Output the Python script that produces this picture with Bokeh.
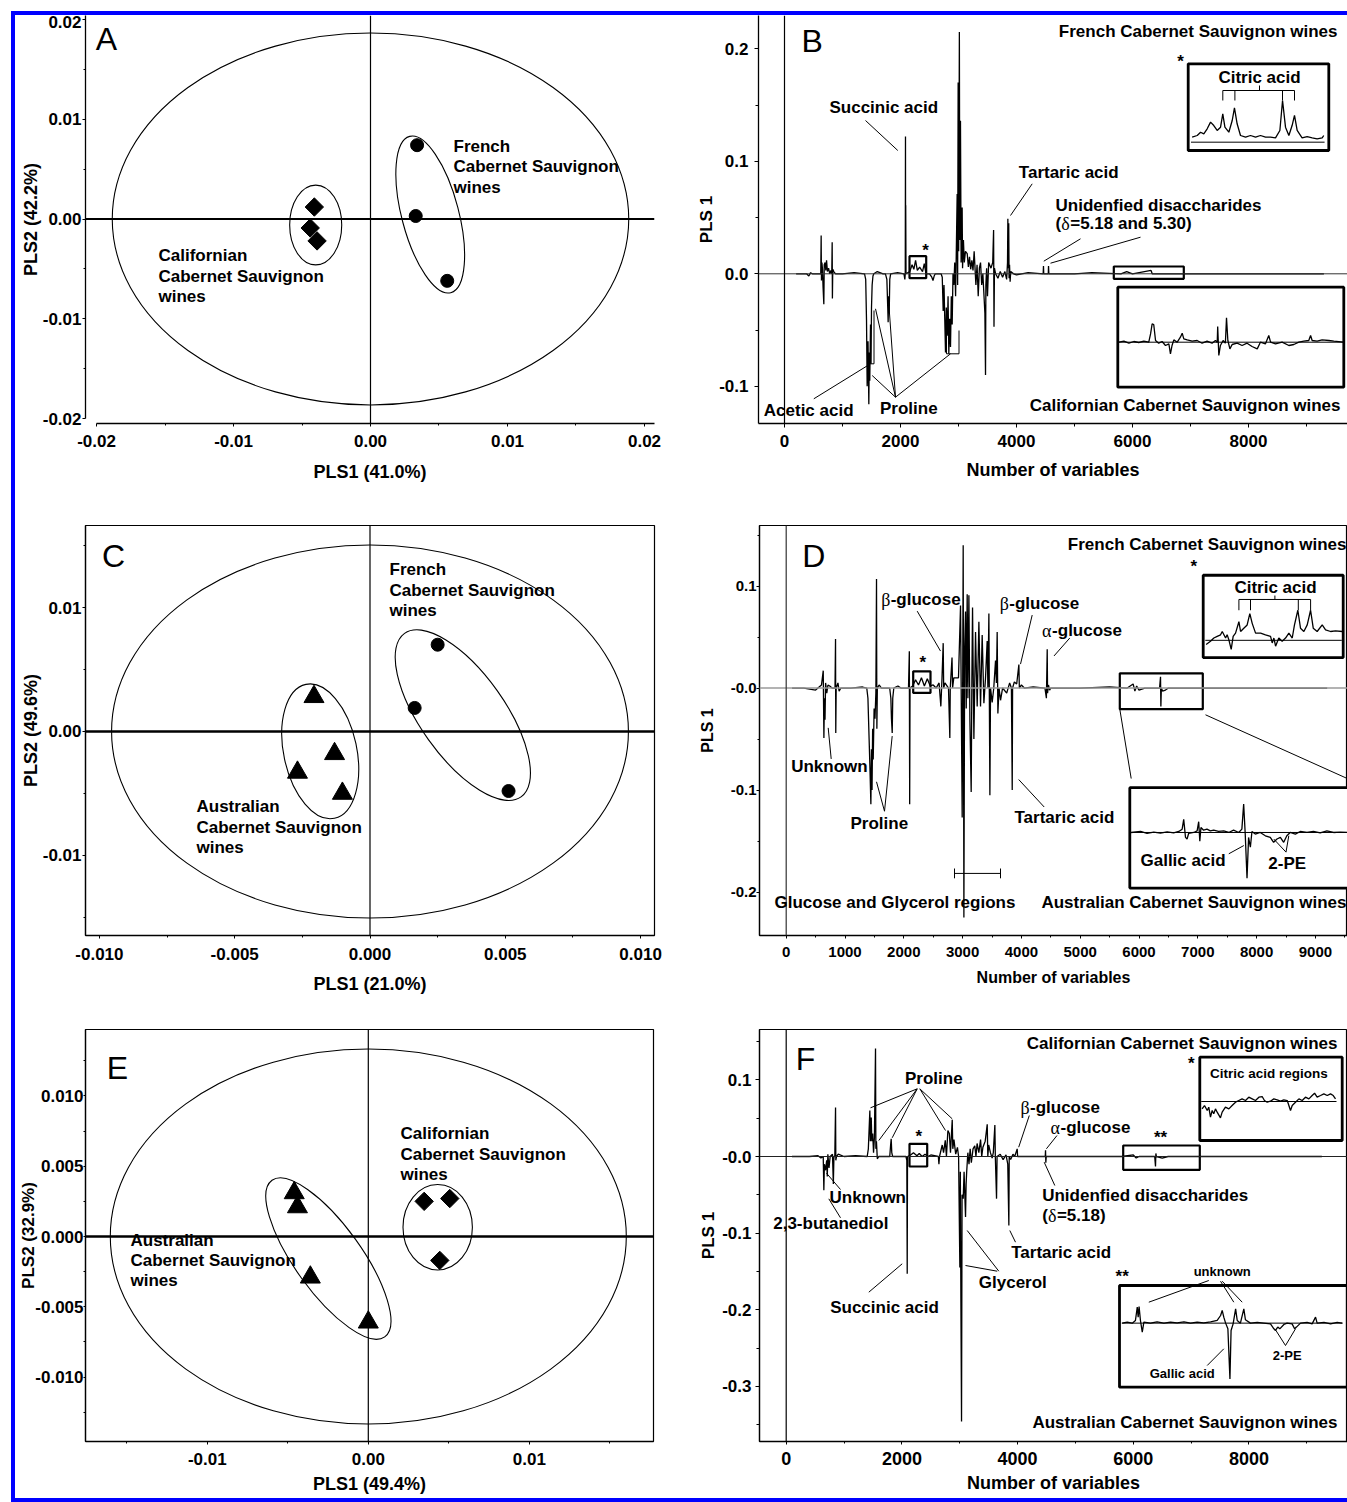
import math
from bokeh.plotting import figure
from bokeh.models import Range1d, Label, Span, FixedTicker, NumeralTickFormatter, Div, Spacer
from bokeh.layouts import row, column
from bokeh.embed import file_html
from bokeh.resources import INLINE

FONT = "Liberation Sans"
SERIF = "Liberation Serif"
BLUE = "#0000ff"

# ------------------------------------------------------------------ data
# Panel A (French vs Californian) scores
A_french_pls1 = [0.0034, 0.0033, 0.0056]
A_french_pls2 = [0.0074, 0.0003, -0.0062]
A_calif_pls1 = [-0.0041, -0.0044, -0.0039]
A_calif_pls2 = [0.0012, -0.0009, -0.0022]
A_ell_x = [0.0, -0.0040, 0.00436]
A_ell_y = [0.0, -0.0006, 0.00045]
A_ell_w = [0.0377, 0.0038, 0.00416]
A_ell_h = [0.0373, 0.0080, 0.0162]
A_ell_angle = [0.0, 0.0, 0.257]
A_ticks = [-0.02, -0.01, 0.0, 0.01, 0.02]
A_minor = [-0.015, -0.005, 0.005, 0.015]

# Panel C (French vs Australian) scores
C_french_pls1 = [0.0025, 0.00165, 0.00512]
C_french_pls2 = [0.0070, 0.0019, -0.0048]
C_austr_pls1 = [-0.00207, -0.00131, -0.00268, -0.00102]
C_austr_pls2 = [0.0028, -0.0018, -0.0033, -0.0050]
C_ell_x = [0.0, -0.00184, 0.00343]
C_ell_y = [0.0, -0.0016, 0.00132]
C_ell_w = [0.0191, 0.0027, 0.00312]
C_ell_h = [0.0301, 0.01105, 0.01619]
C_ell_angle = [0.0, 0.21, 0.619]
C_xticks = [-0.01, -0.005, 0.0, 0.005, 0.01]
C_xminor = [-0.0075, -0.0025, 0.0025, 0.0075]
C_yticks = [-0.01, 0.0, 0.01]
C_yminor = [-0.015, -0.005, 0.005, 0.015]

# Panel E (Californian vs Australian) scores
E_calif_pls1 = [0.00347, 0.00506, 0.00444]
E_calif_pls2 = [0.0025, 0.0027, -0.0017]
E_austr_pls1 = [-0.0046, -0.0044, -0.0036, 0.0000]
E_austr_pls2 = [0.0031, 0.0021, -0.0029, -0.0061]
E_ell_x = [0.0, 0.00431, -0.00248]
E_ell_y = [0.0, 0.00066, -0.00157]
E_ell_w = [0.03205, 0.00431, 0.00413]
E_ell_h = [0.02667, 0.00608, 0.01373]
E_ell_angle = [0.0, 0.0, 0.624]
E_xticks = [-0.01, 0.0, 0.01]
E_xminor = [-0.015, -0.005, 0.005, 0.015]
E_yticks = [-0.01, -0.005, 0.0, 0.005, 0.01]
E_yminor = [-0.0125, -0.0075, -0.0025, 0.0025, 0.0075, 0.0125]

# Panel B loading (PLS 1) vs variable number
B_var = [200, 380, 420, 450, 480, 600, 625, 632, 637, 645, 655, 665, 678, 685, 700, 712, 725, 740, 760, 780, 800, 815, 822, 826, 832, 850, 880, 1000, 1200,
         1380, 1400, 1414, 1425, 1432, 1440, 1454, 1462, 1470, 1483, 1492, 1500, 1511, 1525, 1540, 1600, 1700,
         1740, 1765, 1780, 1787, 1795, 1805, 1815, 1830, 1950, 2060, 2075, 2082, 2086, 2088, 2090, 2095,
         2160, 2200, 2230, 2260, 2290, 2330, 2380, 2410, 2440, 2500, 2540, 2560, 2580, 2600, 2700, 2720,
         2736, 2750, 2776, 2790, 2805, 2820, 2833, 2848, 2862, 2876, 2891, 2905, 2920, 2935, 2950, 2965, 2977, 2985, 2994, 3003,
         3015, 3022, 3034, 3045, 3063, 3070, 3085, 3100, 3120, 3150, 3170, 3190, 3210, 3230, 3250, 3270, 3290, 3300, 3320, 3340,
         3360, 3380, 3400, 3420, 3440, 3455, 3466, 3472, 3485, 3500, 3520, 3560, 3590, 3605, 3612, 3620, 3640, 3680, 3720, 3760,
         3800, 3830, 3845, 3851, 3858, 3866, 3872, 3880, 3890, 3900, 3950, 4000, 4200, 4460, 4465, 4470, 4548, 4552, 4558,
         5000, 5300, 5800, 5900, 6000, 6320, 6340, 7000, 8000, 9300]
B_pls1 = [0.0, 0.0, -0.002, 0.001, 0.0, 0.0, 0.0, 0.034, -0.006, 0.010, 0.004, -0.012, -0.027, 0.008, 0.010, 0.003, 0.012, 0.002, 0.005, 0.0, 0.003, 0.0, 0.028, -0.022, 0.004, 0.002, 0.0, 0.0, 0.001,
          0.0, -0.005, -0.041, -0.100, -0.083, -0.060, -0.116, -0.070, -0.095, -0.045, -0.080, -0.030, -0.010, -0.002, 0.0, 0.002, 0.0,
          0.0, -0.005, -0.030, -0.043, -0.020, -0.035, -0.005, 0.0, 0.001, 0.0, -0.005, 0.0, 0.122, 0.0, 0.061, 0.0,
          0.002, 0.008, 0.004, 0.012, 0.003, 0.006, 0.002, 0.009, 0.0, 0.0, -0.003, -0.006, -0.002, 0.0, 0.0, -0.003,
          -0.033, -0.010, -0.070, -0.030, -0.055, -0.020, -0.071, -0.040, -0.065, -0.020, -0.045, 0.000, -0.010, 0.010, -0.020, 0.030, 0.071, -0.010, 0.170, 0.020,
          0.215, 0.030, 0.136, 0.010, 0.059, 0.005, 0.030, 0.010, 0.020, 0.018, 0.006, 0.015, 0.004, 0.012, 0.003, 0.020, 0.0, -0.010, 0.008, -0.020,
          0.005, 0.010, -0.010, 0.0, -0.020, -0.035, -0.090, -0.010, 0.005, -0.020, 0.010, 0.005, 0.010, 0.039, -0.047, 0.005, 0.0, -0.004, 0.002, -0.003,
          0.002, -0.005, 0.010, 0.049, 0.005, 0.045, -0.004, 0.008, -0.007, 0.002, 0.0, -0.001, 0.001, 0.0, 0.007, 0.0, 0.0, 0.007, 0.0,
          0.0, 0.001, 0.0, 0.002, 0.0, 0.003, 0.0, 0.0, 0.0, 0.0]

# Panel D loading
D_var = [100, 300, 500, 600, 630, 641, 650, 660, 670, 690, 710, 740, 780, 830, 839, 843, 850, 880, 900, 930, 1100, 1300,
         1370, 1390, 1410, 1425, 1440, 1450, 1460, 1470, 1480, 1495, 1510, 1525, 1536, 1542, 1550, 1580, 1620,
         1760, 1780, 1790, 1803, 1812, 1830, 1900, 1950, 2080, 2094, 2100, 2106, 2150, 2200, 2250, 2300, 2350, 2400, 2450,
         2500, 2550, 2600, 2630, 2650, 2670, 2678, 2700, 2760, 2783, 2790, 2820, 2830, 2850, 2930, 2965, 2993, 3010, 3022,
         3035, 3050, 3062, 3078, 3090, 3107, 3124, 3146, 3158, 3169, 3192, 3220, 3248, 3277, 3305, 3333, 3362, 3390, 3418,
         3430, 3447, 3464, 3475, 3503, 3530, 3560, 3575, 3588, 3600, 3620, 3645, 3680, 3750, 3800, 3830, 3844, 3850, 3880,
         3920, 3957, 3965, 4000, 4050, 4200, 4400, 4425, 4439, 4445, 4460, 4480, 4500, 5000, 5500, 5800, 5900, 5930, 5960,
         6000, 6100, 6350, 6366, 6372, 6380, 6400, 6450, 6500, 7000, 8000, 9200]
D_pls1 = [0.0, 0.0, -0.002, 0.003, 0.017, -0.049, -0.010, -0.031, 0.005, -0.005, 0.003, 0.002, 0.0, 0.0, 0.048, -0.044, 0.0, 0.005, -0.003, 0.0, 0.0, 0.001,
          0.0, -0.010, -0.050, -0.080, -0.114, -0.060, -0.100, -0.040, -0.070, -0.020, -0.030, -0.005, 0.107, -0.040, 0.0, 0.003, 0.0,
          0.0, -0.010, -0.030, -0.044, -0.010, 0.0, 0.002, 0.0, 0.0, 0.036, -0.114, 0.0, 0.002, 0.008, 0.003, 0.010, 0.002, 0.009, 0.002,
          0.003, 0.0, 0.005, -0.018, 0.010, 0.044, 0.0, 0.005, 0.0, -0.049, 0.0, 0.030, 0.0, 0.010, 0.010, 0.081, -0.127, 0.140, -0.225,
          0.040, 0.075, -0.020, 0.092, -0.010, 0.091, -0.031, -0.102, 0.010, 0.079, -0.050, 0.055, -0.018, 0.065, -0.018, 0.052, -0.015, 0.010, 0.046,
          0.0, 0.073, -0.105, 0.0, -0.014, 0.0, 0.027, 0.005, 0.055, -0.025, 0.0, -0.012, 0.0, -0.005, 0.005, 0.0, -0.100, 0.0, 0.006,
          0.004, 0.023, 0.0, 0.003, 0.0, 0.001, 0.0, -0.010, 0.038, -0.005, 0.003, -0.002, 0.0, 0.0, 0.001, 0.0, 0.004, -0.003, 0.002,
          -0.002, 0.0, 0.0, 0.011, -0.018, 0.0, -0.003, -0.002, 0.0, 0.0, 0.0, 0.0]

# Panel F loading
F_var = [100, 400, 550, 600, 640, 651, 660, 680, 700, 710, 720, 740, 760, 800, 815, 825, 840, 853, 858, 870, 900, 1000, 1200,
         1400, 1420, 1446, 1455, 1470, 1480, 1495, 1510, 1525, 1544, 1550, 1560, 1575, 1600, 1700, 1790, 1805, 1815, 1825, 1840, 1900,
         2070, 2085, 2092, 2097, 2150, 2200, 2260, 2300, 2350, 2400, 2450, 2500, 2630, 2640, 2650, 2697, 2720, 2750, 2770, 2795,
         2820, 2840, 2870, 2880, 2900, 2930, 2960, 2980, 3002, 3010, 3020, 3031, 3040, 3060, 3075, 3100, 3110, 3120, 3140, 3160,
         3180, 3200, 3230, 3260, 3280, 3300, 3330, 3360, 3380, 3400, 3440, 3475, 3485, 3500, 3530, 3560, 3580, 3607, 3615, 3636,
         3645, 3700, 3750, 3800, 3830, 3849, 3855, 3880, 3920, 3950, 3993, 4000, 4100, 4300, 4478, 4483, 4488, 4495, 5000, 5500,
         5800, 6000, 6050, 6100, 6370, 6384, 6390, 6400, 6500, 6600, 7000, 9260]
F_pls1 = [0.0, 0.0, 0.001, -0.002, 0.0, -0.044, -0.010, -0.018, -0.005, -0.026, 0.003, -0.015, 0.0, 0.003, -0.036, 0.0, 0.0, 0.064, -0.005, 0.0, 0.003, 0.0, 0.001,
          0.0, 0.010, 0.060, 0.020, 0.051, 0.020, 0.030, 0.005, 0.025, 0.141, 0.010, 0.020, -0.003, 0.0, 0.0, 0.0, 0.015, 0.023, 0.005, 0.0, 0.0,
          0.0, -0.005, -0.153, 0.0, 0.002, 0.005, 0.001, 0.004, 0.0, 0.003, 0.0, 0.002, 0.0, -0.010, 0.0, 0.015, 0.005, 0.021, 0.0, 0.034,
          0.030, 0.005, 0.048, 0.010, 0.022, 0.003, 0.012, 0.0, -0.145, -0.020, -0.190, -0.346, -0.050, -0.055, -0.020, -0.079, -0.036, -0.020, 0.005, -0.010,
          0.010, -0.008, 0.010, 0.014, 0.0, 0.017, 0.005, 0.022, 0.0, 0.012, 0.020, 0.042, 0.0, 0.015, 0.005, -0.002, 0.005, 0.041, 0.0, -0.055,
          0.0, 0.003, -0.004, 0.002, -0.010, -0.090, 0.0, -0.004, 0.003, 0.0, 0.010, 0.0, 0.0, 0.0, 0.0, 0.008, -0.008, 0.0, 0.0, 0.0,
          0.0, 0.002, -0.002, 0.0, 0.0, -0.013, 0.004, 0.0, -0.002, 0.0, 0.0, 0.0]

# Zoomed insets: position along the inset (% of width) and height above baseline (% of inset height)
B_citric_u = [2.8, 6.4, 8.8, 11.1, 13.5, 15.9, 18.2, 20.6, 23.0, 24.6, 26.1, 28.9, 31.3, 32.9, 34.8, 37.2, 40.8, 44.3, 47.9, 51.4, 55.0, 58.5,
              62.1, 65.2, 67.1, 69.2, 71.6, 73.9, 75.6, 77.5, 81.0, 84.6, 88.2, 91.7, 95.3, 96.4]
B_citric_v = [5.8, 7.7, 11.5, 9.6, 15.4, 23.1, 19.2, 13.5, 17.3, 32.7, 17.3, 11.5, 25.0, 39.6, 21.2, 7.7, 5.8, 7.7, 5.8, 7.7, 5.8, 5.8,
              5.0, 13.5, 48.1, 17.3, 7.7, 19.2, 30.8, 13.5, 5.0, 6.5, 5.0, 3.8, 5.0, 7.7]
B_calif_u = [0.4, 2.7, 4.9, 7.1, 9.3, 11.5, 13.7, 14.5, 15.2, 15.9, 16.7, 18.1, 19.6, 21.1, 22.6, 23.3, 24.0, 24.8, 26.3, 27.7, 28.5, 29.2,
             30.7, 32.9, 35.1, 37.3, 39.5, 41.7, 43.2, 44.0, 44.2, 44.7, 45.4, 46.6, 47.6, 48.1, 48.7, 49.6, 50.6, 52.8, 55.0, 57.2,
             59.4, 61.7, 63.1, 65.3, 66.8, 67.6, 69.8, 72.7, 75.7, 77.9, 80.1, 82.3, 84.5, 85.3, 86.0, 88.2, 90.4, 93.4, 95.6, 100.0]
B_calif_v = [0, 1.0, -1.0, 0.7, -0.3, 1.0, 0, 8.3, 18.3, 17.7, 1.7, -1.0, 0.7, -3.3, -1.7, -11.7, -3.3, 2.3, 0, 5.0, 9.0, 3.3,
             2.3, 1.0, 1.7, -1.0, 1.0, -1.0, 1.7, 0, 15.7, -13.3, -3.3, 1.7, -1.0, 24.3, 1.7, -6.7, -2.3, -1.0, -3.3, -1.0,
             -4.3, -6.7, 0, -1.7, 6.7, 0, -1.7, 0, -3.3, -2.3, 0, 1.0, 1.7, 6.7, 1.7, 1.0, 2.3, 1.7, 1.0, 0]
D_citric_u = [2.1, 5.2, 7.6, 10.0, 12.4, 13.6, 16.0, 17.1, 18.3, 20.0, 21.4, 23.1, 25.5, 26.7, 29.0, 31.4, 33.3, 35.0, 37.4, 41.0, 44.5,
              48.1, 49.3, 50.5, 51.7, 54.0, 56.4, 58.8, 61.2, 63.6, 65.2, 67.6, 69.5, 71.9, 74.3, 76.7, 78.6, 81.4, 85.0, 87.4, 91.0, 94.5, 99.3]
D_citric_v = [-5.2, -1.2, 2.8, 4.8, 6.7, 10.7, 2.8, 6.7, 0.8, -11.1, 4.8, 8.7, 22.6, 10.7, 14.7, 18.7, 32.5, 20.6, 8.7, 8.7, 6.7,
              4.8, -3.2, 2.8, -7.1, 2.8, -1.2, 2.8, 8.7, 2.8, 18.7, 36.5, 14.7, 10.7, 18.7, 36.5, 14.7, 10.7, 18.7, 12.7, 10.7, 11.5, 10.7]
D_austr_u = [0.6, 4.8, 7.7, 10.7, 13.7, 16.7, 19.6, 21.9, 23.4, 24.1, 24.9, 25.6, 26.3, 28.6, 30.1, 30.8, 31.3, 31.8, 33.0, 34.5, 36.0,
             37.5, 39.7, 42.0, 44.2, 46.4, 48.7, 50.1, 50.9, 51.6, 52.4, 53.1, 53.9, 54.6, 56.1, 58.3, 60.6, 62.8, 64.3, 65.8, 67.3,
             68.8, 70.2, 71.7, 74.0, 76.2, 79.2, 82.1, 85.1, 88.1, 91.1, 94.0, 97.2]
D_austr_v = [0, 1.0, -1.0, 0.3, -0.7, 0.7, -0.3, 1.0, 3.3, 13.0, -4.9, -6.5, -1.0, 0, 1.6, 10.7, -8.8, 4.9, 2.3, 3.3, 1.6,
             2.3, 1.0, 1.6, 0, 2.3, 0, 3.3, 28.3, -1.6, -45.6, -4.9, -14.7, 1.0, -1.6, 0, -3.3, -4.9, -9.8, -6.5, -4.9,
             -9.8, -3.3, 0, -1.6, 1.0, 0, 1.0, -0.3, 1.6, 0, 0.3, 0]
F_citric_u = [1.6, 3.3, 5.2, 6.3, 7.5, 8.7, 9.8, 11.0, 12.2, 14.5, 15.7, 18.0, 20.4, 22.7, 25.1, 27.4, 29.7, 32.1, 34.4, 36.8, 39.1,
              41.5, 43.8, 45.4, 47.3, 49.6, 52.0, 54.3, 56.7, 59.0, 61.4, 63.7, 64.9, 67.2, 69.6, 71.9, 74.2, 76.6, 78.9, 80.6, 82.4,
              84.8, 87.1, 89.5, 91.8, 93.7, 95.3]
F_citric_v = [-8.8, -4.8, -10.8, -6.8, -18.8, -10.8, -14.8, -8.8, -12.8, -19.6, -12.8, -6.8, -8.8, -4.8, -0.8, 1.2, 3.2, 1.2, 5.2, 3.2, 1.2,
              5.2, 6.0, 1.2, -0.8, 0.4, 3.2, 2.0, 0.4, 2.0, 1.2, -10.8, -4.8, -0.8, 3.2, 1.2, 5.2, 3.2, 7.2, 10.0, 5.2,
              7.2, 9.2, 7.2, 9.2, 7.2, 3.2]
F_austr_u = [1.2, 3.4, 5.6, 7.0, 7.8, 8.2, 8.6, 9.2, 10.0, 10.7, 13.6, 16.5, 19.5, 22.4, 25.3, 28.3, 31.2, 34.1, 37.0, 40.0, 42.9,
             44.4, 45.1, 45.8, 46.6, 47.6, 48.5, 49.0, 49.9, 51.0, 51.7, 53.1, 54.6, 55.3, 57.5, 60.5, 63.4, 66.3, 67.8, 68.5, 69.5,
             70.4, 72.2, 73.6, 75.8, 76.9, 77.7, 79.5, 82.4, 84.6, 86.1, 86.8, 89.8, 92.7, 95.6, 97.8]
F_austr_v = [0, 1.0, 0, 2.6, 15.7, 5.9, 16.4, 2.6, -8.9, 1.0, 0, 1.3, 0, 1.0, 0.3, 1.3, 0, 1.0, 0.3, 1.3, 2.6,
             7.5, 12.5, 5.9, 0, -5.6, -54.8, -7.2, -0.7, 14.1, 2.6, 0, 14.1, 3.3, 0, 0.7, 0, -0.7, -5.6, -7.2, -3.9,
             -5.6, -1.3, 0, -0.7, -5.6, -3.9, 0, 0.7, -0.7, 5.9, 0, 0.7, -0.7, 0.7, 0]

LOAD_XTICKS = [0, 2000, 4000, 6000, 8000]
LOAD_XMINOR = [1000, 3000, 5000, 7000, 9000]
D_xticks = [0, 1000, 2000, 3000, 4000, 5000, 6000, 7000, 8000, 9000]
D_xminor = [500, 1500, 2500, 3500, 4500, 5500, 6500, 7500, 8500, 9500]
B_yticks = [-0.1, 0.0, 0.1, 0.2]
B_yminor = [-0.05, 0.05, 0.15]
D_yticks = [-0.2, -0.1, 0.0, 0.1]
D_yminor = [-0.15, -0.05, 0.05, 0.15]
F_yticks = [-0.3, -0.2, -0.1, 0.0, 0.1]
F_yminor = [-0.35, -0.25, -0.15, -0.05, 0.05, 0.15]


# ------------------------------------------------------------------ helpers
class Panel:
    """Figure whose frame occupies a known pixel box on the page (L, R, T, B)."""
    def __init__(self, w, h, bl, br, bt, bb, origin, xr, yr, outline):
        self.p = figure(width=w, height=h, x_range=Range1d(*xr), y_range=Range1d(*yr),
                        output_backend="svg", toolbar_location=None,
                        min_border=0, min_border_left=bl, min_border_right=br,
                        min_border_top=bt, min_border_bottom=bb)
        self.p.xgrid.visible = False
        self.p.ygrid.visible = False
        self.p.outline_line_color = "black" if outline else None
        self.p.outline_line_width = 1.2
        self.L = origin[0] + bl
        self.R = origin[0] + w - br
        self.T = origin[1] + bt
        self.B = origin[1] + h - bb
        self.xr, self.yr = xr, yr

    def fx(self, px):
        return self.xr[0] + (px - self.L) / (self.R - self.L) * (self.xr[1] - self.xr[0])

    def fy(self, py):
        return self.yr[1] - (py - self.T) / (self.B - self.T) * (self.yr[1] - self.yr[0])

    def txt(self, px, py, s, size=17, align="left", bold=True, angle=0.0, font=FONT):
        self.p.add_layout(Label(x=self.fx(px), y=self.fy(py), text=s, text_font=font,
                                text_font_size=f"{size}px",
                                text_font_style="bold" if bold else "normal",
                                text_align=align, text_baseline="middle", angle=angle,
                                text_color="black"))

    def rich(self, px, py, parts, size=17):
        """Left-aligned run of pieces: (text, is_greek, advance_px)."""
        x = px
        for s, greek, adv in parts:
            if greek:
                self.txt(x, py + 0.5, s, size=size + 1, bold=False, font=SERIF)
            else:
                self.txt(x, py, s, size=size)
            x += adv

    def lines(self, paths, lw=1.0):
        xs = [[self.fx(a) for a, b in path] for path in paths]
        ys = [[self.fy(b) for a, b in path] for path in paths]
        self.p.multi_line(xs, ys, line_color="black", line_width=lw)

    def box(self, L, T, R, B, lw=2.0, fill=None):
        self.p.quad(left=[self.fx(L)], right=[self.fx(R)], top=[self.fy(T)], bottom=[self.fy(B)],
                    fill_color=fill, line_color="black", line_width=lw)

    def inset(self, L, T, R, B, base_pct, u, v, base_span=(1.0, 99.0)):
        self.box(L, T, R, B, lw=2.8, fill="white")
        W, H = R - L, B - T
        by = B - base_pct / 100.0 * H
        self.lines([[(L + W * base_span[0] / 100, by), (L + W * base_span[1] / 100, by)]], lw=1.0)
        xs = [self.fx(L + W * a / 100.0) for a in u]
        ys = [self.fy(by - H * b / 100.0) for b in v]
        self.p.line(xs, ys, line_color="black", line_width=1.3)


def style_axis(ax, ticks, minor, fmt, size, tick_out, standoff, label=None, label_size=18,
               label_sd=5, overrides=None, bounds=None):
    ax.ticker = FixedTicker(ticks=ticks, minor_ticks=minor)
    ax.formatter = NumeralTickFormatter(format=fmt)
    ax.major_label_text_font = FONT
    ax.major_label_text_font_style = "bold"
    ax.major_label_text_font_size = f"{size}px"
    ax.major_label_text_color = "black"
    ax.major_tick_in = 0
    ax.major_tick_out = tick_out
    ax.minor_tick_in = 0
    ax.minor_tick_out = max(tick_out - 1, 2)
    ax.major_label_standoff = standoff
    ax.axis_line_color = "black"
    ax.axis_line_width = 1.3
    ax.major_tick_line_color = "black"
    ax.minor_tick_line_color = "black"
    if label:
        ax.axis_label = label
        ax.axis_label_text_font = FONT
        ax.axis_label_text_font_style = "bold"
        ax.axis_label_text_font_size = f"{label_size}px"
        ax.axis_label_text_color = "black"
        ax.axis_label_standoff = label_sd
    if overrides:
        ax.major_label_overrides = overrides
    if bounds:
        ax.bounds = bounds


def crosshair(p, hw=2.0, vw=1.2, hcolor="black"):
    p.add_layout(Span(location=0, dimension="width", line_color=hcolor, line_width=hw))
    p.add_layout(Span(location=0, dimension="height", line_color="black", line_width=vw))


def ellipses(p, x, y, w, h, a):
    p.ellipse(x=x, y=y, width=w, height=h, angle=a, fill_color=None, line_color="black", line_width=1.1)


# ------------------------------------------------------------------ panel A
A = Panel(665, 485, 70, 26, 0, 76, (15, 15), (-0.020803, 0.020730), (-0.0205, 0.0204), False)
pA = A.p
crosshair(pA, hw=2.0, vw=1.2)
ellipses(pA, A_ell_x, A_ell_y, A_ell_w, A_ell_h, A_ell_angle)
pA.scatter(A_french_pls1, A_french_pls2, marker="circle", size=13, color="black")
pA.scatter(A_calif_pls1, A_calif_pls2, marker="square", angle=math.pi / 4, size=13, color="black")
style_axis(pA.xaxis[0], A_ticks, A_minor, "0.00", 17, 3, 8, "PLS1 (41.0%)", 18, 12, bounds=(-0.02, 0.0207))
style_axis(pA.yaxis[0], A_ticks, A_minor, "0.00", 17, 3, 1, "PLS2 (42.2%)", 18, -1, bounds=(-0.02, 0.0204))
A.txt(106, 39, "A", size=32, align="center", bold=False)
for i, s in enumerate(["French", "Cabernet Sauvignon", "wines"]):
    A.txt(453, 146 + 20.5 * i, s)
for i, s in enumerate(["Californian", "Cabernet Sauvignon", "wines"]):
    A.txt(158, 256 + 20.5 * i, s)

# ------------------------------------------------------------------ panel B
Bp = Panel(667, 485, 78, 0, 0, 77, (680, 15), (-448.3, 9706.9), (-0.13307, 0.22960), False)
pB = Bp.p
pB.add_layout(Span(location=0, dimension="width", line_color="#333333", line_width=1.0))
pB.add_layout(Span(location=0, dimension="height", line_color="black", line_width=1.2))
pB.line(B_var, B_pls1, line_color="black", line_width=1.3)
style_axis(pB.xaxis[0], LOAD_XTICKS, LOAD_XMINOR, "0", 17, 4, 7, "Number of variables", 18, 10)
style_axis(pB.yaxis[0], B_yticks, B_yminor, "0.0", 17, 4, 6, "PLS 1", 17, 0)
Bp.txt(811.7, 40, "B", size=32, align="center", bold=False)
Bp.txt(1337, 30.5, "French Cabernet Sauvignon wines", align="right")
Bp.txt(883.3, 107.3, "Succinic acid", align="center")
Bp.inset(1187.7, 63.3, 1328.3, 150, 9.6, B_citric_u, B_citric_v, (2, 97))
Bp.txt(1180, 61, "*", align="center")
Bp.txt(1259, 76.6, "Citric acid", align="center")
Bp.lines([[(1222.3, 100), (1222.3, 90), (1294, 90), (1294, 100)], [(1234.4, 90), (1234.4, 100)],
          [(1282, 90), (1282, 100)], [(1259, 85), (1259, 90)]])
Bp.txt(1018.3, 171.7, "Tartaric acid")
Bp.txt(1055, 205, "Unidenfied disaccharides")
Bp.rich(1055, 223.3, [("(", False, 5.7), ("\u03b4", True, 9.0), ("=5.18 and 5.30)", False, 0)])
Bp.txt(925, 249.5, "*", align="center")
Bp.box(909, 255.7, 925.7, 277.7, lw=2.2)
Bp.box(1113.3, 266, 1183.3, 278.3, lw=2.2)
Bp.inset(1117.3, 286.7, 1343.3, 386.7, 45, B_calif_u, B_calif_v, (0.5, 100))
Bp.txt(1340, 405, "Californian Cabernet Sauvignon wines", align="right")
Bp.txt(763.3, 410, "Acetic acid")
Bp.txt(908.3, 408.3, "Proline", align="center")
Bp.lines([[(865, 120), (897.3, 150)], [(1031.7, 183.3), (1010, 215)],
          [(1080, 238.3), (1043.3, 260.7)], [(1140, 236.7), (1050, 262.7)],
          [(813.3, 398.3), (870, 363.3), (873.5, 363.3), (873.5, 310)],
          [(895, 396.7), (871.7, 375)], [(895, 396.7), (875, 308.3)], [(895, 396.7), (888.3, 303.3)],
          [(895, 396.7), (950, 353.3)], [(946, 310), (946, 353.3), (958.5, 353.3), (958.5, 330)]])

# ------------------------------------------------------------------ panel C
C = Panel(665, 500, 70, 26, 25, 65, (15, 500), (-0.010514, 0.010514), (-0.016452, 0.016613), True)
pC = C.p
crosshair(pC, hw=2.4, vw=1.2)
ellipses(pC, C_ell_x, C_ell_y, C_ell_w, C_ell_h, C_ell_angle)
pC.scatter(C_french_pls1, C_french_pls2, marker="circle", size=13, color="black")
pC.scatter(C_austr_pls1, C_austr_pls2, marker="triangle", size=20, color="black")
style_axis(pC.xaxis[0], C_xticks, C_xminor, "0.000", 17, 3, 9, "PLS1 (21.0%)", 18, 11)
style_axis(pC.yaxis[0], C_yticks, C_yminor, "0.00", 17, 3, 1, "PLS2 (49.6%)", 18, -1)
C.txt(113, 555, "C", size=32, align="center", bold=False)
for i, s in enumerate(["French", "Cabernet Sauvignon", "wines"]):
    C.txt(389, 569 + 20.5 * i, s)
for i, s in enumerate(["Australian", "Cabernet Sauvignon", "wines"]):
    C.txt(196, 806 + 20.5 * i, s)

# ------------------------------------------------------------------ panel D
D = Panel(667, 500, 79, 0, 17, 65, (680, 500), (-454.1, 9545.9), (-0.24260, 0.15933), True)
pD = D.p
pD.add_layout(Span(location=0, dimension="width", line_color="#9a9a9a", line_width=1.4))
pD.add_layout(Span(location=0, dimension="height", line_color="#333333", line_width=1.2))
pD.line(D_var, D_pls1, line_color="black", line_width=1.3)
style_axis(pD.xaxis[0], D_xticks, D_xminor, "0", 15, 3, 8, "Number of variables", 16, 9)
style_axis(pD.yaxis[0], D_yticks, D_yminor, "0.0", 15, 3, 0, "PLS 1", 16, 12, overrides={0: "-0.0"})
D.txt(813.3, 548.3, "D", size=32, align="center", bold=False)
D.txt(1346, 536.7, "French Cabernet Sauvignon wines", align="right")
D.rich(880.7, 592.3, [("\u03b2", True, 9.5), ("-glucose", False, 0)])
D.rich(999.3, 596.7, [("\u03b2", True, 9.5), ("-glucose", False, 0)])
D.rich(1041.6, 624, [("\u03b1", True, 10.0), ("-glucose", False, 0)])
D.txt(922.3, 656.7, "*", align="center")
D.box(912.7, 665.7, 930, 687.7, lw=2.2)
D.inset(1202.7, 567.7, 1342.7, 651.7, 21, D_citric_u, D_citric_v, (1.5, 99))
D.txt(1193.3, 558.3, "*", align="center")
D.txt(1275, 580, "Citric acid", align="center")
D.lines([[(1238.4, 603.4), (1238.4, 592.4), (1310.1, 592.4), (1310.1, 603.4)], [(1250, 592.4), (1250, 603.4)],
         [(1297.8, 592.4), (1297.8, 603.4)], [(1274.4, 588.4), (1274.4, 592.4)]])
D.box(1119.3, 667.7, 1202.3, 704.3, lw=2.2)
D.lines([[(1119.3, 704.3), (1130.7, 775)], [(1205, 710), (1360, 781)]])
D.inset(1129.3, 784.3, 1353, 886.7, 55.4, D_austr_u, D_austr_v, (0.5, 100))
D.txt(1140, 858.3, "Gallic acid")
D.txt(1286.7, 861.7, "2-PE", align="center")
D.txt(790.7, 762.3, "Unknown")
D.txt(850, 821, "Proline")
D.txt(1014, 814.3, "Tartaric acid")
D.txt(774, 901, "Glucose and Glycerol regions")
D.txt(1346, 901.7, "Australian Cabernet Sauvignon wines", align="right")
D.lines([[(916.7, 604.3), (940, 645)], [(1031.7, 608.3), (1020, 658.3)], [(1069.3, 631.7), (1053.5, 650)],
         [(1228.3, 851.7), (1243.3, 843.3)], [(1285.5, 850), (1273.3, 836.7)], [(1285.5, 850), (1288.3, 833.3)],
         [(830.7, 755), (827.7, 723.3)], [(884, 808.3), (876, 778.3)], [(884, 808.3), (891.7, 731.7)],
         [(1043.7, 804), (1018.2, 776)],
         [(954, 871.7), (1000, 871.7)], [(954, 866.7), (954, 876.7)], [(1000, 866.7), (1000, 876.7)]])

# ------------------------------------------------------------------ panel E
E = Panel(665, 498, 70, 27, 29, 57, (15, 1000), (-0.017565, 0.017714), (-0.014580, 0.014723), True)
pE = E.p
crosshair(pE, hw=2.4, vw=1.2)
ellipses(pE, E_ell_x, E_ell_y, E_ell_w, E_ell_h, E_ell_angle)
pE.scatter(E_calif_pls1, E_calif_pls2, marker="square", angle=math.pi / 4, size=13, color="black")
pE.scatter(E_austr_pls1, E_austr_pls2, marker="triangle", size=20, color="black")
style_axis(pE.xaxis[0], E_xticks, E_xminor, "0.00", 17, 3, 8, "PLS1 (49.4%)", 18, 6)
style_axis(pE.yaxis[0], E_yticks, E_yminor, "0.000", 17, 2, 0, "PLS2 (32.9%)", 17, -6)
E.txt(117, 1067, "E", size=32, align="center", bold=False)
for i, s in enumerate(["Californian", "Cabernet Sauvignon", "wines"]):
    E.txt(400, 1133 + 20.5 * i, s)
for i, s in enumerate(["Australian", "Cabernet Sauvignon", "wines"]):
    E.txt(130, 1240 + 20 * i, s)

# ------------------------------------------------------------------ panel F
F = Panel(667, 498, 79, 0, 29, 57, (680, 1000), (-461.5, 9702.7), (-0.37206, 0.16580), True)
pF = F.p
pF.add_layout(Span(location=0, dimension="width", line_color="#222222", line_width=1.1))
pF.add_layout(Span(location=0, dimension="height", line_color="black", line_width=1.2))
pF.line(F_var, F_pls1, line_color="black", line_width=1.3)
style_axis(pF.xaxis[0], LOAD_XTICKS, LOAD_XMINOR, "0", 18, 3, 7, "Number of variables", 18, 5)
style_axis(pF.yaxis[0], F_yticks, F_yminor, "0.0", 17, 4, 4, "PLS 1", 17, 1, overrides={0: "-0.0"})
F.txt(805, 1058.3, "F", size=32, align="center", bold=False)
F.txt(1337, 1043.3, "Californian Cabernet Sauvignon wines", align="right")
F.txt(933.3, 1078.3, "Proline", align="center")
F.txt(918.3, 1136, "*", align="center")
F.box(909, 1143.3, 926.7, 1166, lw=2.2)
F.rich(1020, 1107.3, [("\u03b2", True, 9.5), ("-glucose", False, 0)])
F.rich(1050, 1127.3, [("\u03b1", True, 10.0), ("-glucose", False, 0)])
F.txt(1160, 1136.7, "**", align="center")
F.box(1122.7, 1145, 1199.3, 1169.3, lw=2.2)
F.inset(1199.3, 1056.7, 1341.7, 1140, 46.8, F_citric_u, F_citric_v, (1, 96))
F.txt(1190.7, 1062.7, "*", align="center")
F.txt(1268.3, 1073.3, "Citric acid regions", size=13.5, align="center")
F.txt(1041.7, 1195, "Unidenfied disaccharides")
F.rich(1041.7, 1215, [("(", False, 5.7), ("\u03b4", True, 9.0), ("=5.18)", False, 0)])
F.txt(829, 1196.7, "Unknown")
F.txt(772.7, 1223.3, "2,3-butanediol")
F.txt(884, 1306.7, "Succinic acid", align="center")
F.txt(978.3, 1282.3, "Glycerol")
F.txt(1010.7, 1251.7, "Tartaric acid")
F.inset(1119, 1285, 1346.7, 1386.7, 63, F_austr_u, F_austr_v, (1, 98))
F.txt(1121.7, 1276, "**", align="center")
F.txt(1221.7, 1270.7, "unknown", size=13, align="center")
F.txt(1181.7, 1372.7, "Gallic acid", size=13, align="center")
F.txt(1286.7, 1355, "2-PE", size=13, align="center")
F.txt(1337, 1421.7, "Australian Cabernet Sauvignon wines", align="right")
F.lines([[(916.7, 1088.3), (870, 1107.3)], [(916.7, 1088.3), (878.3, 1140)], [(916.7, 1088.3), (891.7, 1137.3)],
         [(919.3, 1088.3), (945, 1130)], [(919.3, 1088.3), (951.7, 1118.3)],
         [(1028.8, 1115), (1018.2, 1146.7)], [(1056.5, 1135), (1045.9, 1148.3)],
         [(1054.3, 1185), (1043.7, 1161.7)], [(840, 1189), (826, 1172.7)], [(828.3, 1198.3), (840, 1217.3)],
         [(868.3, 1291.7), (901.7, 1263.3)], [(998.3, 1270.7), (966.7, 1230)], [(996.7, 1270.7), (965, 1265)],
         [(1015, 1241.7), (1009.3, 1230)],
         [(1208.3, 1280), (1148.3, 1301.7)], [(1220, 1280.7), (1233.3, 1301.7)], [(1221.7, 1280.7), (1241.7, 1301.7)],
         [(1206.7, 1365), (1223.3, 1348.3)], [(1285, 1345), (1275, 1329.3)], [(1285, 1345), (1295, 1328.3)]])


# ------------------------------------------------------------------ layout with blue frame
def bar(w, h):
    return Div(text="", width=w, height=h, margin=0, styles={"background-color": BLUE})


grid = column(row(pA, pB, spacing=0), row(pC, pD, spacing=0), row(pE, pF, spacing=0), spacing=0)
inner = row(bar(4, 1483), grid, spacing=0)
main = column(bar(1336, 4), inner, bar(1336, 4), spacing=0)
page = column(Spacer(width=1347, height=11, margin=0),
              row(Spacer(width=11, height=1491, margin=0), main, spacing=0), spacing=0)

open("out.html", "w").write(file_html(page, INLINE))
